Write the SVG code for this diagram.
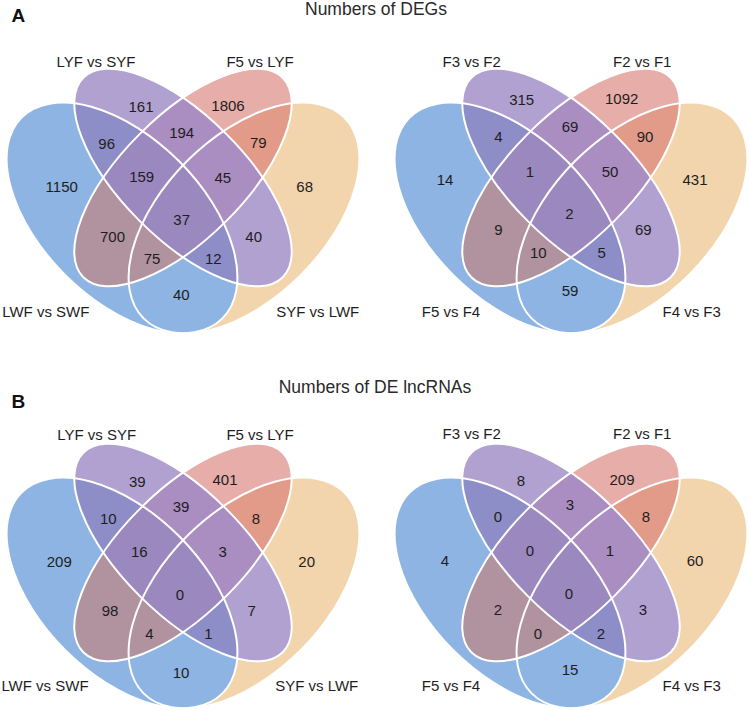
<svg xmlns="http://www.w3.org/2000/svg" xmlns:xlink="http://www.w3.org/1999/xlink" width="749" height="710" viewBox="0 0 749 710">
<style>
text{font-family:"Liberation Sans",Arial,Helvetica,sans-serif;fill:#1e1e1e;}
.n{font-size:15px;text-anchor:middle;}
.s{font-size:15px;text-anchor:middle;}
.t{font-size:17.5px;text-anchor:middle;fill:#2a2a2a;}
.p{font-size:19px;font-weight:bold;fill:#111;}
.o{fill:none;stroke:#fff;stroke-width:2;}
</style>
<defs>
<ellipse id="eA" cx="122" cy="218" rx="142" ry="80.5" transform="rotate(45 122 218)"/>
<ellipse id="eB" cx="183" cy="177.5" rx="141" ry="61.4" transform="rotate(45 183 177.5)"/>
<ellipse id="eC" cx="183" cy="177.5" rx="141" ry="61.4" transform="rotate(-45 183 177.5)"/>
<ellipse id="eD" cx="244" cy="218" rx="142" ry="80.5" transform="rotate(-45 244 218)"/>
<clipPath id="kB"><use href="#eB"/></clipPath>
<clipPath id="kC"><use href="#eC"/></clipPath>
<g id="venn">
<use href="#eD" fill="#F2D5AC"/>
<use href="#eA" fill="#8DB4E2"/>
<use href="#eB" fill="#B1A1D0"/>
<use href="#eA" fill="#8D8DC7" clip-path="url(#kB)"/>
<use href="#eC" fill="#E6ADA9"/>
<use href="#eD" fill="#E39B89" clip-path="url(#kC)"/>
<use href="#eB" fill="#AA8DC1" clip-path="url(#kC)"/>
<use href="#eA" fill="#B1929F" clip-path="url(#kC)"/>
<g clip-path="url(#kC)"><use href="#eA" fill="#9B88BF" clip-path="url(#kB)"/></g>
<use href="#eD" class="o"/>
<use href="#eA" class="o"/>
<use href="#eB" class="o"/>
<use href="#eC" class="o"/>
</g>
</defs>

<text class="p" x="11.5" y="21.7">A</text>
<text class="t" x="376" y="15">Numbers of DEGs</text>
<text class="p" x="11.5" y="408.3">B</text>
<text class="t" x="375" y="393">Numbers of DE lncRNAs</text>

<g id="venn-A-left">
<use href="#venn"/>
<g class="s">
<text x="96" y="67.4">LYF vs SYF</text>
<text x="260" y="67.4">F5 vs LYF</text>
<text x="45.8" y="317.4">LWF vs SWF</text>
<text x="317.7" y="317.4">SYF vs LWF</text>
</g>
<g class="n">
<text x="141" y="112.4">161</text>
<text x="228" y="110.9">1806</text>
<text x="106.7" y="148.7">96</text>
<text x="181.7" y="138.4">194</text>
<text x="258.3" y="148.4">79</text>
<text x="61.7" y="192.1">1150</text>
<text x="141.7" y="182.1">159</text>
<text x="222.8" y="183.4">45</text>
<text x="304.7" y="192.1">68</text>
<text x="181.7" y="225.4">37</text>
<text x="112.5" y="242.1">700</text>
<text x="253.7" y="242.1">40</text>
<text x="152" y="264.1">75</text>
<text x="213.3" y="264.1">12</text>
<text x="181.3" y="300.4">40</text>
</g>
</g>

<g id="venn-A-right">
<use href="#venn" x="388"/>
<g class="s">
<text x="471.7" y="67.1">F3 vs F2</text>
<text x="642.3" y="67.1">F2 vs F1</text>
<text x="451" y="317.1">F5 vs F4</text>
<text x="691.7" y="317.1">F4 vs F3</text>
</g>
<g class="n">
<text x="521.7" y="104.7">315</text>
<text x="621.7" y="103.7">1092</text>
<text x="498.3" y="142.1">4</text>
<text x="570" y="132.1">69</text>
<text x="645" y="142.1">90</text>
<text x="445" y="185.4">14</text>
<text x="530" y="177.1">1</text>
<text x="610" y="177.1">50</text>
<text x="695" y="185.4">431</text>
<text x="569.3" y="218.7">2</text>
<text x="498.3" y="235.4">9</text>
<text x="643.3" y="235.4">69</text>
<text x="538.3" y="257.7">10</text>
<text x="601.7" y="257.7">5</text>
<text x="570" y="296.1">59</text>
</g>
</g>

<g id="venn-B-left">
<use href="#venn" y="375"/>
<g class="s">
<text x="96.7" y="439.7">LYF vs SYF</text>
<text x="260" y="439.7">F5 vs LYF</text>
<text x="45" y="691.4">LWF vs SWF</text>
<text x="316.7" y="691.4">SYF vs LWF</text>
</g>
<g class="n">
<text x="137.3" y="487.1">39</text>
<text x="225" y="485.4">401</text>
<text x="108.3" y="523.7">10</text>
<text x="181" y="512.1">39</text>
<text x="256" y="523.7">8</text>
<text x="59.3" y="567.1">209</text>
<text x="139.3" y="557.1">16</text>
<text x="222.7" y="557.1">3</text>
<text x="306.7" y="567.1">20</text>
<text x="180" y="600.4">0</text>
<text x="110" y="616.1">98</text>
<text x="251.7" y="616.1">7</text>
<text x="149.3" y="639.4">4</text>
<text x="208.3" y="639.4">1</text>
<text x="181" y="677.7">10</text>
</g>
</g>

<g id="venn-B-right">
<use href="#venn" x="388" y="375"/>
<g class="s">
<text x="471.7" y="439.4">F3 vs F2</text>
<text x="642.3" y="439.4">F2 vs F1</text>
<text x="451" y="691.4">F5 vs F4</text>
<text x="691.7" y="691.4">F4 vs F3</text>
</g>
<g class="n">
<text x="521" y="486.4">8</text>
<text x="622" y="485.4">209</text>
<text x="498" y="522.4">0</text>
<text x="570" y="510.4">3</text>
<text x="646" y="522.4">8</text>
<text x="445" y="566.4">4</text>
<text x="530" y="556.4">0</text>
<text x="610" y="556.4">1</text>
<text x="695" y="566.4">60</text>
<text x="569" y="599.4">0</text>
<text x="498" y="615.4">2</text>
<text x="643" y="615.4">3</text>
<text x="538" y="639.4">0</text>
<text x="601" y="639.4">2</text>
<text x="570" y="675.4">15</text>
</g>
</g>
</svg>
